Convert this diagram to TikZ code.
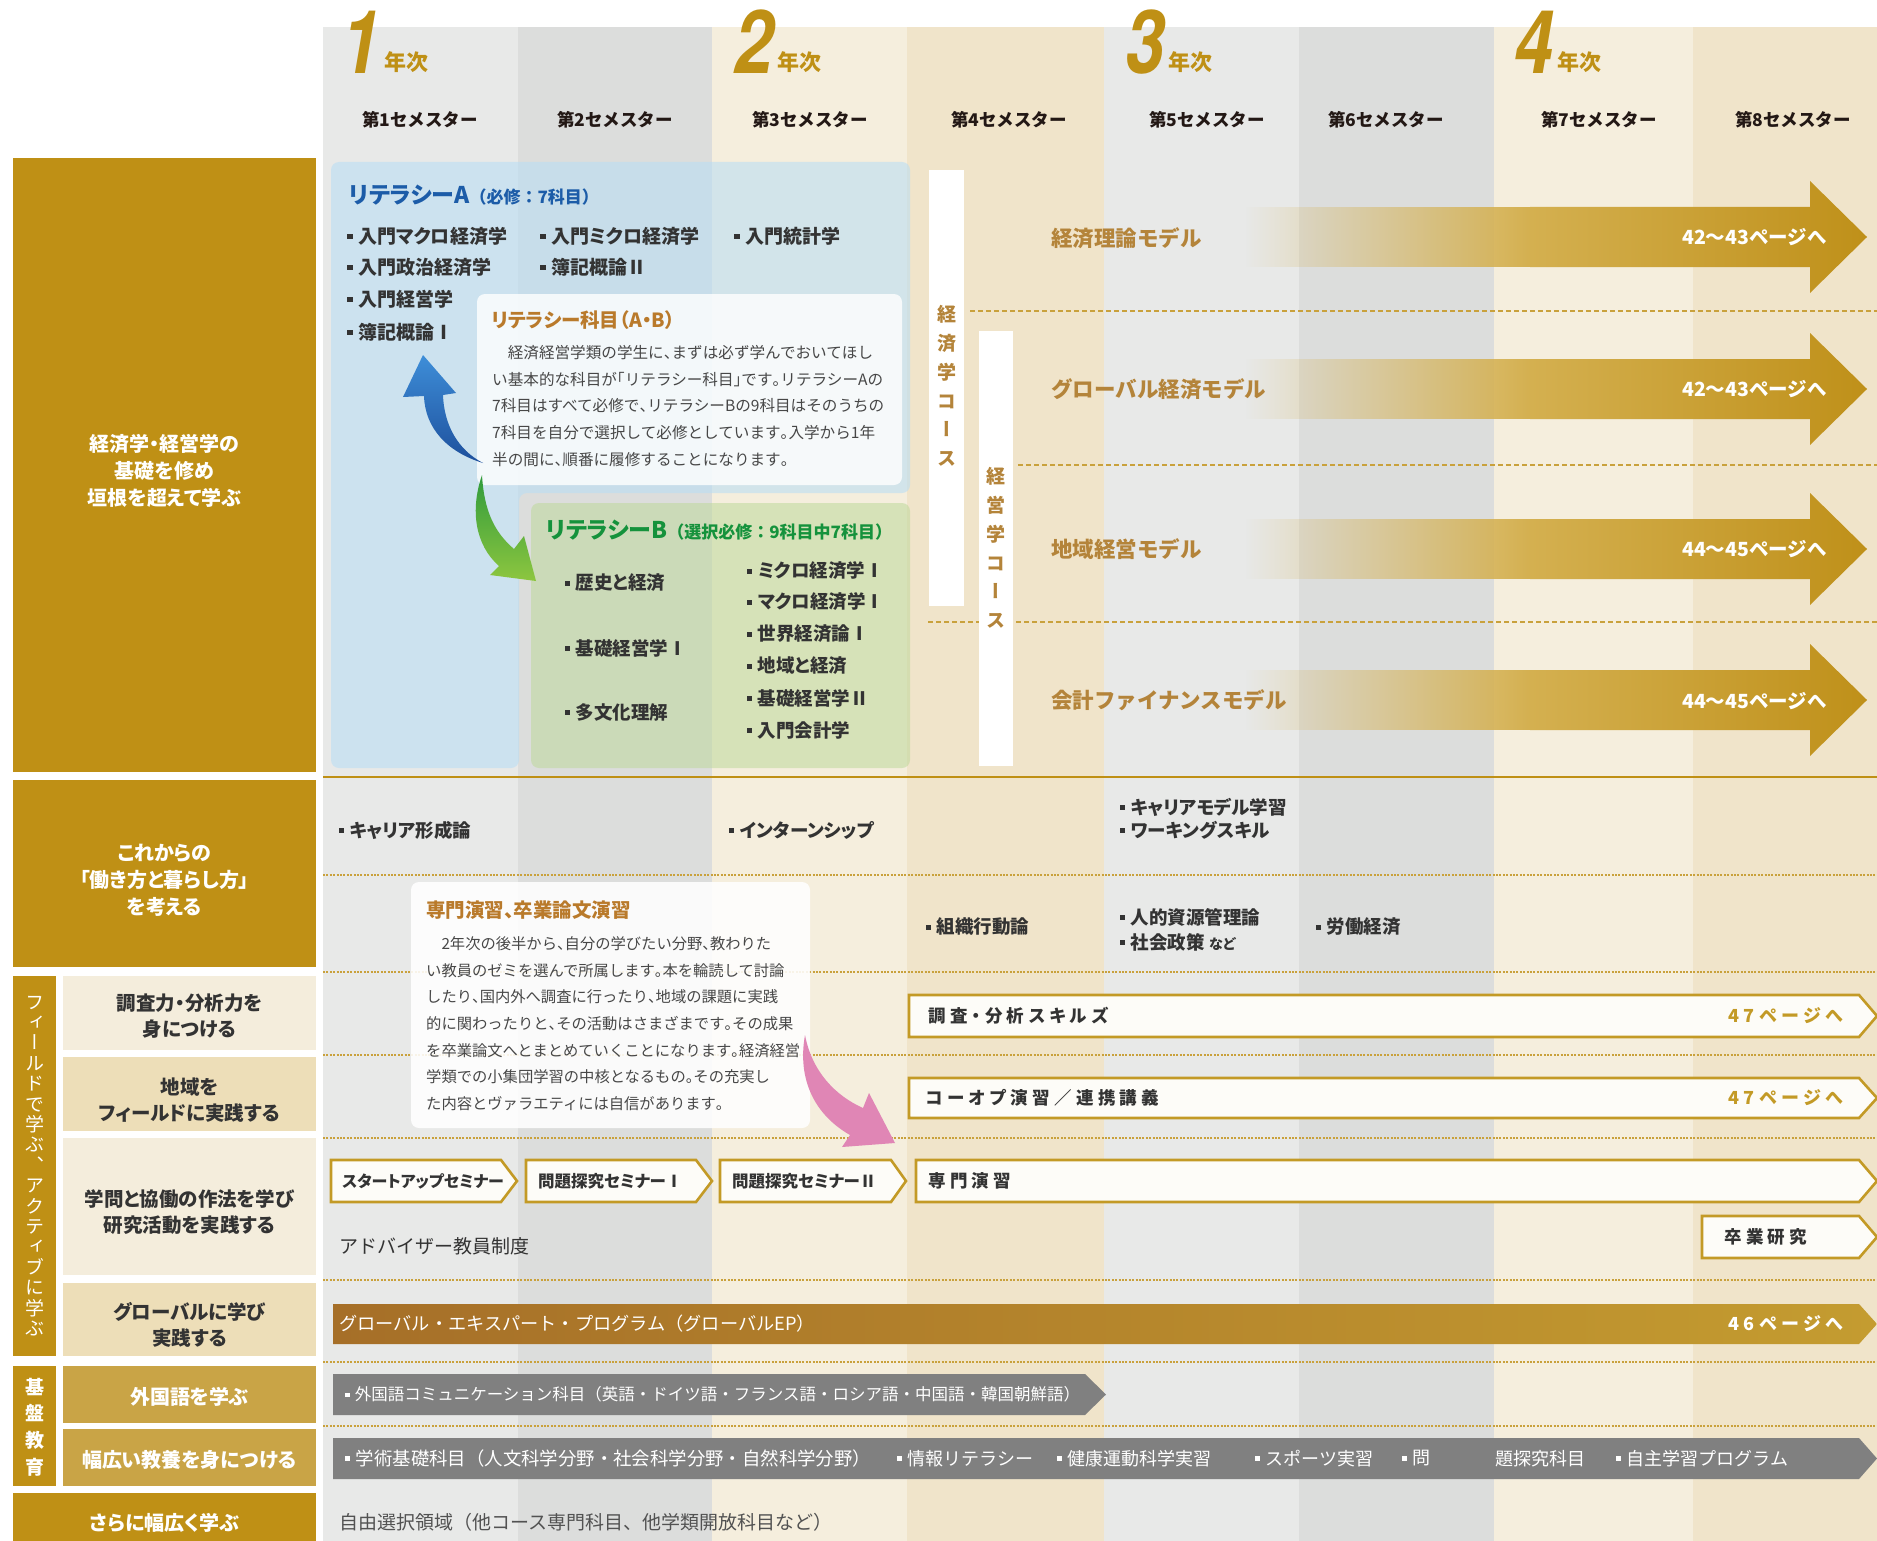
\documentclass[tikz,border=0pt]{standalone}
\usepackage{fontspec}
\setmainfont{Noto Sans CJK JP}[RawFeature=+palt]
\newfontfamily\jpm{Noto Sans CJK JP}
\newfontfamily\jpv{Noto Sans CJK JP}[RawFeature=+vert]
\newfontfamily\jpls{Noto Sans CJK JP}[RawFeature=+palt,LetterSpace=25]
\newfontfamily\numf{TeX Gyre Heros}[FakeStretch=0.8]
\usetikzlibrary{fadings}
\newcommand\fsz[1]{\fontsize{#1}{#1}\selectfont}
\newcommand\fszl[2]{\fontsize{#1}{#2}\selectfont}
\newcommand\sqb{\rule[0.22em]{0.28em}{0.28em}\hspace{0.3em}}
\newcommand\hpR[1]{\makebox[0.5em][l]{#1}}
\newcommand\hpL[1]{\makebox[0.5em][r]{#1}}
\definecolor{gold}{HTML}{BF9015}
\definecolor{goldl}{HTML}{C9A446}
\definecolor{cA}{HTML}{E8E9E8}
\definecolor{cB}{HTML}{DCDDDC}
\definecolor{cC}{HTML}{F5EEDD}
\definecolor{cD}{HTML}{F0E4CA}
\definecolor{subA}{HTML}{F4EDDC}
\definecolor{subB}{HTML}{EDDEB8}
\definecolor{ink}{HTML}{333333}
\definecolor{semink}{HTML}{231815}
\definecolor{litA}{HTML}{B6DDF6}
\definecolor{litB}{HTML}{BED99B}
\definecolor{blueT}{HTML}{1C5CA8}
\definecolor{greenT}{HTML}{15923C}
\definecolor{brownT}{HTML}{B97A2B}
\definecolor{modelT}{HTML}{B4843A}
\definecolor{dashc}{HTML}{C9A13C}
\definecolor{barline}{HTML}{C39A26}
\definecolor{barfill}{HTML}{FDFCF8}
\definecolor{grayb}{HTML}{808080}
\definecolor{pinkA}{HTML}{E086B5}
\definecolor{blueL}{HTML}{3E8ED8}
\definecolor{blueD}{HTML}{1D4F9C}
\definecolor{greenD}{HTML}{2F9B3C}
\definecolor{greenL}{HTML}{8DC63F}
\definecolor{goldlt}{HTML}{D4B050}
\definecolor{gold2}{HTML}{BF9019}
\definecolor{epL}{HTML}{A66F28}
\definecolor{epR}{HTML}{C49C30}
\tikzfading[name=fadeR, left color=transparent!100, right color=transparent!0]
\newcommand\marrow[1]{%
  \fill[goldlt, path fading=fadeR] (1245,#1-30) rectangle (1530,#1+30);
  \shade[left color=goldlt, right color=gold2] (1530,#1-30) -- (1810,#1-30) -- (1810,#1-56) -- (1867,#1) -- (1810,#1+56) -- (1810,#1+30) -- (1530,#1+30) -- cycle;}
\begin{document}
\begin{tikzpicture}[x=1pt,y=-1pt,
  txt/.style={inner sep=0pt, text=ink},
  itm/.style={txt, anchor=west, font=\fsz{19}\bfseries},
  itmb/.style={txt, anchor=west, font=\fsz{18.5}\bfseries},
  sem/.style={txt, text=semink, font=\jpm\fsz{17.5}\bfseries},
  yr/.style={inner sep=0pt, text=gold, anchor=base west, font=\fsz{22}\bfseries},
  yd/.style={inner sep=0pt, text=gold, anchor=base east, font=\numf\bfseries\itshape\fsz{88}},
  wlab/.style={inner sep=0pt, text=white, align=center, font=\fszl{20}{27}\bfseries},
  dlab/.style={inner sep=0pt, text=ink, align=center, font=\fszl{19.5}{26.5}\bfseries},
  vlab/.style={inner sep=0pt, text=white, align=center},
  para/.style={inner sep=0pt, text=ink!90, align=left, anchor=north west},
  ttl/.style={inner sep=0pt, anchor=west, text=brownT, font=\fsz{19.5}\bfseries},
  model/.style={inner sep=0pt, anchor=west, text=modelT, font=\jpm\fsz{21.5}\bfseries},
  pref/.style={inner sep=0pt, anchor=east, text=white, font=\jpm\fsz{19.5}\bfseries},
  vtext/.style={inner sep=0pt, text=modelT, align=center, font=\jpv\fszl{19}{28.8}\bfseries},
  dotl/.style={dashc, line width=1.1pt, dash pattern=on 2pt off 1.4pt},
  dashl/.style={dashc, line width=1.6pt, dash pattern=on 5pt off 3pt},
  wbar/.style={draw=barline, line width=2.6pt, fill=barfill, line join=miter},
  bartxt/.style={inner sep=0pt, anchor=west, text=ink, font=\jpls\fsz{17.5}\bfseries},
  semtxt/.style={inner sep=0pt, anchor=west, text=ink, font=\fsz{16.5}\bfseries},
  ptxt/.style={inner sep=0pt, anchor=east, text=barline, font=\jpls\fsz{18}\bfseries},
  gtxt/.style={inner sep=0pt, anchor=west, text=white, font=\jpm\fsz{18}}
]
\useasboundingbox (0,0) rectangle (1877,1541);
\fill[white] (0,0) rectangle (1877,1541);
% semester columns
\foreach \xa/\xb/\c in {323/518/cA,518/712/cB,712/907/cC,907/1104/cD,1104/1299/cA,1299/1494/cB,1494/1693/cC,1693/1877/cD}
  \fill[\c] (\xa,27) rectangle (\xb,1541);
% years
\node[yr] (n1) at (384,71) {年次};
\node[yd] (d1) at (381,74) {1};
\node[yr] (n2) at (777,71) {年次};
\node[yd] (d2) at (774,74) {2};
\node[yr] (n3) at (1168,71) {年次};
\node[yd] (d3) at (1165,74) {3};
\node[yr] (n4) at (1557,71) {年次};
\node[yd] (d4) at (1554,74) {4};
% semesters
\node[sem] (s1) at (420,120) {第1セメスター};
\node[sem] (s2) at (615,120) {第2セメスター};
\node[sem] (s3) at (810,120) {第3セメスター};
\node[sem] (s4) at (1009,120) {第4セメスター};
\node[sem] (s5) at (1207,120) {第5セメスター};
\node[sem] (s6) at (1386,120) {第6セメスター};
\node[sem] (s7) at (1599,120) {第7セメスター};
\node[sem] (s8) at (1793,120) {第8セメスター};
% left labels
\fill[gold] (13,158) rectangle (316,772);
\node[wlab] (l1) at (164.5,471) {経済学・経営学の\\基礎を修め\\垣根を超えて学ぶ};
\fill[gold] (13,780) rectangle (316,967);
\node[wlab] (l2) at (164.5,880) {これからの\\「働き方と暮らし方」\\を考える};
\fill[gold] (13,976) rectangle (56,1356);
\node[vlab, font=\jpv\fszl{19}{20.4}] (lf) at (34.5,1166) {フ\\ィ\\ー\\ル\\ド\\で\\学\\ぶ\\、\\ア\\ク\\テ\\ィ\\ブ\\に\\学\\ぶ};
\fill[subA] (63,976) rectangle (316,1050);
\node[dlab] (l3) at (189.5,1016) {調査力・分析力を\\身につける};
\fill[subB] (63,1057) rectangle (316,1131);
\node[dlab] (l4) at (189.5,1100) {地域を\\フィールドに実践する};
\fill[subA] (63,1138) rectangle (316,1275);
\node[dlab] (l5) at (189.5,1212) {学問と協働の作法を学び\\研究活動を実践する};
\fill[subB] (63,1283) rectangle (316,1356);
\node[dlab] (l6) at (189.5,1325) {グローバルに学び\\実践する};
\fill[gold] (13,1366) rectangle (56,1486);
\node[vlab, font=\jpv\fszl{19}{26.7}\bfseries] (lk) at (34.5,1427) {基\\盤\\教\\育};
\fill[goldl] (63,1366) rectangle (316,1423);
\node[wlab] (l7) at (189.5,1397) {外国語を学ぶ};
\fill[goldl] (63,1429) rectangle (316,1486);
\node[wlab] (l8) at (189.5,1460) {幅広い教養を身につける};
\fill[gold] (13,1493) rectangle (316,1541);
\node[wlab] (l9) at (164.5,1523) {さらに幅広く学ぶ};
% row separators
\draw[gold, line width=1.5pt] (323,777) -- (1877,777);
\foreach \yy in {875,972,1055,1138,1280,1362,1426}
  \draw[dotl] (323,\yy) -- (1877,\yy);
\draw[dashl] (970,311) -- (1877,311);
\draw[dashl] (1018,465) -- (1877,465);
\draw[dashl] (928,622) -- (1877,622);
% literacy boxes
\fill[litA, fill opacity=0.55, rounded corners=8pt] (331,162) -- (910,162) -- (910,493) -- (519,493) -- (519,768) -- (331,768) -- cycle;
\fill[litB, fill opacity=0.55, rounded corners=8pt] (531,503) rectangle (910,768);
\node[txt, anchor=west, text=blueT, font=\fsz{23}\bfseries] (tA) at (349,195) {リテラシーA{\jpm\fsz{17}（必修：7科目）}};
\node[itm] (a1) at (347,236) {\sqb 入門マクロ経済学};
\node[itm] (a2) at (540,236) {\sqb 入門ミクロ経済学};
\node[itm] (a3) at (734,236) {\sqb 入門統計学};
\node[itm] (a4) at (347,267) {\sqb 入門政治経済学};
\node[itm] (a5) at (540,267) {\sqb 簿記概論Ⅱ};
\node[itm] (a6) at (347,299) {\sqb 入門経営学};
\node[itm] (a7) at (347,332) {\sqb 簿記概論Ⅰ};
% info box 1
\fill[white, fill opacity=0.8, rounded corners=8pt] (477,294) rectangle (902,485);
\node[ttl] (i1t) at (491,320) {リテラシー科目（A・B）};
\node[para, font=\jpm\fszl{15.6}{26.7}] (i1b) at (492,345) {　経済経営学類の学生に\hpR{、}まずは必ず学んでおいてほし\\い基本的な科目が\hpL{「}リテラシー科目\hpR{」}です\hpR{。}リテラシーAの\\7科目はすべて必修で\hpR{、}リテラシーBの9科目はそのうちの\\7科目を自分で選択して必修としています\hpR{。}入学から1年\\半の間に\hpR{、}順番に履修することになります\hpR{。}};
% blue and green arrows
\shade[top color=blueL, bottom color=blueD] (483,463) .. controls (447,452) and (425,428) .. (424,396) -- (403,397) -- (423,355) -- (456,393) -- (443,395) .. controls (444,425) and (458,450) .. (483,463) -- cycle;
\shade[top color=greenD, bottom color=greenL] (482,475) .. controls (470,510) and (475,545) .. (499,566) -- (490,575) -- (536,581) -- (524,536) -- (514,549) .. controls (494,532) and (484,510) .. (482,475) -- cycle;
% literacy B
\node[txt, anchor=west, text=greenT, font=\fsz{23}\bfseries] (tB) at (546,530) {リテラシーB{\jpm\fsz{17}（選択必修：9科目中7科目）}};
\node[itmb] (b1) at (565,583) {\sqb 歴史と経済};
\node[itmb] (b2) at (565,648) {\sqb 基礎経営学Ⅰ};
\node[itmb] (b3) at (565,712) {\sqb 多文化理解};
\node[itmb] (b4) at (747,571) {\sqb ミクロ経済学Ⅰ};
\node[itmb] (b5) at (747,602) {\sqb マクロ経済学Ⅰ};
\node[itmb] (b6) at (747,634) {\sqb 世界経済論Ⅰ};
\node[itmb] (b7) at (747,666) {\sqb 地域と経済};
\node[itmb] (b8) at (747,698) {\sqb 基礎経営学Ⅱ};
\node[itmb] (b9) at (747,730) {\sqb 入門会計学};
% course bars
\fill[white] (929,170) rectangle (964,606);
\node[vtext] (ce) at (946.5,386) {経\\済\\学\\コ\\ー\\ス};
\fill[white] (979,331) rectangle (1013,766);
\node[vtext] (cm) at (996,548) {経\\営\\学\\コ\\ー\\ス};
% model arrows
\marrow{237}
\marrow{389}
\marrow{549}
\marrow{700}
\node[model] (m1) at (1051,238) {経済理論モデル};
\node[model] (m2) at (1051,389) {グローバル経済モデル};
\node[model] (m3) at (1051,549) {地域経営モデル};
\node[model] (m4) at (1051,700) {会計ファイナンスモデル};
\node[pref] (p1) at (1827,237) {42〜43ページへ};
\node[pref] (p2) at (1827,389) {42〜43ページへ};
\node[pref] (p3) at (1827,549) {44〜45ページへ};
\node[pref] (p4) at (1827,701) {44〜45ページへ};
% row 2 items
\node[itmb] (r1) at (339,830) {\sqb キャリア形成論};
\node[itmb] (r2) at (729,830) {\sqb インターンシップ};
\node[itmb] (r3) at (1120,807) {\sqb キャリアモデル学習};
\node[itmb] (r4) at (1120,830) {\sqb ワーキングスキル};
\node[itmb] (r5) at (926,927) {\sqb 組織行動論};
\node[itmb] (r6) at (1120,917) {\sqb 人的資源管理論};
\node[itmb] (r7) at (1120,942) {\sqb 社会政策 {\fsz{14}など}};
\node[itmb] (r8) at (1316,927) {\sqb 労働経済};
% info box 2
\fill[white, fill opacity=0.88, rounded corners=8pt] (411,882) rectangle (810,1128);
\node[ttl] (i2t) at (426,910) {専門演習、卒業論文演習};
\node[para, font=\jpm\fszl{15.3}{26.6}] (i2b) at (426,936.5) {　2年次の後半から\hpR{、}自分の学びたい分野\hpR{、}教わりた\\い教員のゼミを選んで所属します\hpR{。}本を輪読して討論\\したり\hpR{、}国内外へ調査に行ったり\hpR{、}地域の課題に実践\\的に関わったりと\hpR{、}その活動はさまざまです\hpR{。}その成果\\を卒業論文へとまとめていくことになります\hpR{。}経済経営\\学類での小集団学習の中核となるもの\hpR{。}その充実し\\た内容とヴァラエティには自信があります\hpR{。}};
\fill[pinkA] (805,1035) .. controls (797,1080) and (815,1115) .. (850,1135) -- (842,1147) -- (895,1143) -- (869,1093) -- (863,1108) .. controls (836,1096) and (812,1072) .. (805,1035) -- cycle;
% skill bars
\draw[wbar] (909,995) -- (1859,995) -- (1877,1016) -- (1859,1037) -- (909,1037) -- cycle;
\node[bartxt] (k1) at (928,1016) {調査・分析スキルズ};
\node[ptxt] (k1p) at (1843,1016) {47ページへ};
\draw[wbar] (909,1078) -- (1859,1078) -- (1877,1098) -- (1859,1118) -- (909,1118) -- cycle;
\node[bartxt] (k2) at (926,1098) {コーオプ演習／連携講義};
\node[ptxt] (k2p) at (1843,1098) {47ページへ};
% seminars
\draw[wbar] (331,1160) -- (501,1160) -- (517,1181) -- (501,1202) -- (331,1202) -- cycle;
\node[semtxt, font=\fsz{16}\bfseries] (e1) at (342,1181) {スタートアップセミナー};
\draw[wbar] (526,1160) -- (696,1160) -- (712,1181) -- (696,1202) -- (526,1202) -- cycle;
\node[semtxt] (e2) at (538,1181) {問題探究セミナーⅠ};
\draw[wbar] (720,1160) -- (891,1160) -- (906,1181) -- (891,1202) -- (720,1202) -- cycle;
\node[semtxt] (e3) at (732,1181) {問題探究セミナーⅡ};
\draw[wbar] (916,1160) -- (1859,1160) -- (1877,1181) -- (1859,1202) -- (916,1202) -- cycle;
\node[bartxt] (e4) at (928,1181) {専門演習};
\draw[wbar] (1702,1216) -- (1859,1216) -- (1877,1237) -- (1859,1258) -- (1702,1258) -- cycle;
\node[bartxt] (e5) at (1724,1237) {卒業研究};
\node[txt, anchor=west, font=\jpm\fsz{19}] (adv) at (339,1246) {アドバイザー教員制度};
% global EP
\shade[left color=epL, right color=epR] (333,1304) -- (1859,1304) -- (1877,1324) -- (1859,1344) -- (333,1344) -- cycle;
\node[gtxt, font=\jpm\fsz{18.2}] (ep) at (339,1324) {グローバル・エキスパート・プログラム（グローバルEP）};
\node[pref, font=\jpls\fsz{18}\bfseries] (epp) at (1843,1324) {46ページへ};
% basic education bars
\fill[grayb] (333,1374) -- (1085,1374) -- (1106,1394.5) -- (1085,1415) -- (333,1415) -- cycle;
\node[gtxt, font=\jpm\fsz{16.5}] (fl) at (345,1394.5) {\sqb 外国語コミュニケーション科目（英語・ドイツ語・フランス語・ロシア語・中国語・韓国朝鮮語）};
\fill[grayb] (333,1438) -- (1859,1438) -- (1877,1458.5) -- (1859,1479) -- (333,1479) -- cycle;
\node[gtxt, font=\jpm\fsz{18.4}] (g1) at (345,1458.5) {\sqb 学術基礎科目（人文科学分野・社会科学分野・自然科学分野）};
\node[gtxt] (g2) at (897,1458.5) {\sqb 情報リテラシー};
\node[gtxt] (g3) at (1057,1458.5) {\sqb 健康運動科学実習};
\node[gtxt] (g4) at (1255,1458.5) {\sqb スポーツ実習};
\node[gtxt] (g5) at (1402,1458.5) {\sqb 問};
\node[gtxt] (g6) at (1495,1458.5) {題探究科目};
\node[gtxt] (g7) at (1616,1458.5) {\sqb 自主学習プログラム};
\node[txt, anchor=west, text=ink!85, font=\jpm\fsz{19}] (free) at (339,1522) {自由選択領域（他コース専門科目、他学類開放科目など）};
\end{tikzpicture}
\end{document}
